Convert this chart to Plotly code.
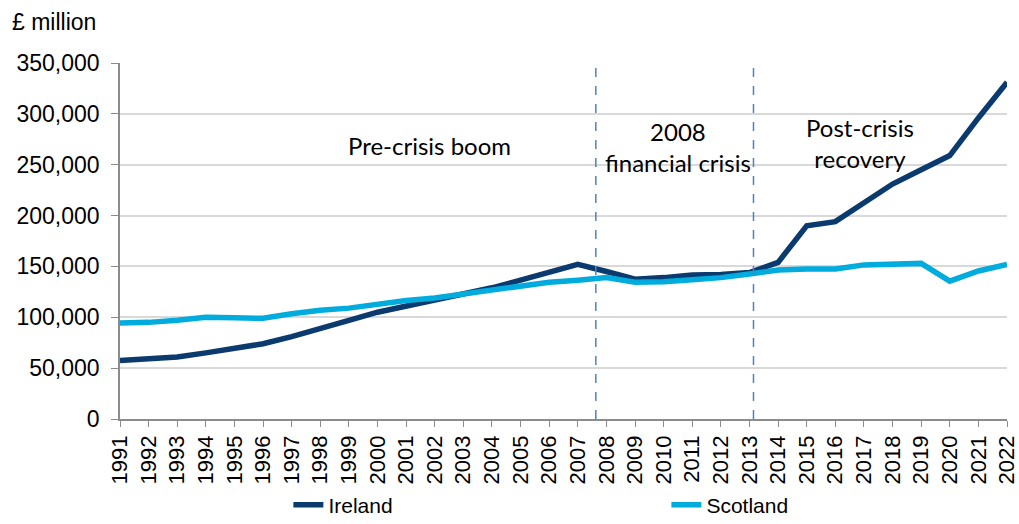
import plotly.graph_objects as go

years = list(range(1991, 2023))
ireland = [57500, 59500, 61000, 65000, 69500, 74000, 81000, 88500, 97000, 105000,
           111000, 116500, 122000, 129000, 136500, 144000, 152000, 145000, 137500, 139000,
           141500, 142000, 144000, 154000, 190000, 194000, 212000, 231000, 245000, 259000,
           296000, 331000]
scotland = [94500, 95000, 97000, 100000, 99500, 99000, 103500, 107000, 109000, 113000,
            116500, 119000, 123000, 127000, 131500, 134500, 136500, 139000, 134500, 135000,
            137000, 139000, 142500, 146500, 147500, 147500, 151500, 152000, 153000, 135500,
            145500, 152000]
period_bounds = [2007.63, 2013.14]
period_labels = ["Pre-crisis boom", "2008<br>financial crisis", "Post-crisis<br>recovery"]
period_label_x = [2001.8, 2010.5, 2016.85]
period_label_y = [0.767, 0.764, 0.775]

fig = go.Figure()
fig.add_trace(go.Scatter(x=years, y=ireland, mode="lines", name="Ireland", cliponaxis=False,
                         line=dict(color="#0B3B6E", width=5.5)))
fig.add_trace(go.Scatter(x=years, y=scotland, mode="lines", name="Scotland", cliponaxis=False,
                         line=dict(color="#00ACDE", width=5.5)))

for xb in period_bounds:
    fig.add_shape(type="line", xref="x", yref="paper", x0=xb, x1=xb, y0=0, y1=0.995,
                  line=dict(color="#4F81BD", width=1.5, dash="dash"), layer="above")

ann_font = dict(family="Lato, Open Sans, sans-serif", size=24, color="#000000")
for lx, ly, lt in zip(period_label_x, period_label_y, period_labels):
    fig.add_annotation(x=lx, y=ly, xref="x", yref="paper", text=lt, showarrow=False,
                       xanchor="center", yanchor="middle", font=ann_font)
fig.add_annotation(x=(10 - 120) / 887, y=(419 - 22) / 356, xref="paper", yref="paper",
                   text="£ million", showarrow=False, xanchor="left", yanchor="middle",
                   font=dict(family="Liberation Sans, Arial, sans-serif", size=23, color="#000"))

fig.update_layout(
    width=1019, height=524,
    margin=dict(l=120, r=12, t=63, b=105, autoexpand=False),
    paper_bgcolor="white", plot_bgcolor="white",
    font=dict(family="Liberation Sans, Arial, sans-serif", color="#000000"),
    showlegend=True,
    legend=dict(orientation="h", xref="container", x=0.283, xanchor="left",
                yref="container", y=0.036, yanchor="middle",
                entrywidth=333, entrywidthmode="pixels",
                font=dict(size=21, family="Liberation Sans, Arial, sans-serif")),
    xaxis=dict(range=[1991, 2022], tickmode="array", tickvals=years,
               ticktext=[str(y) for y in years], tickangle=-90, automargin=False,
               ticklabeloverflow="allow",
               tickfont=dict(size=22), showgrid=False, zeroline=False,
               showline=True, linecolor="#8C8C8C", linewidth=1.5,
               ticks="outside", ticklen=6, tickcolor="#8C8C8C"),
    yaxis=dict(range=[0, 350000], dtick=50000, tickformat=",", automargin=False,
               ticklabelstandoff=7,
               tickfont=dict(size=23), showgrid=True, gridcolor="#D9D9D9", gridwidth=1.5,
               zeroline=False, showline=True, linecolor="#8C8C8C", linewidth=1.5,
               ticks="outside", ticklen=7, tickcolor="#8C8C8C"),
)

fig.write_html("out.html")
